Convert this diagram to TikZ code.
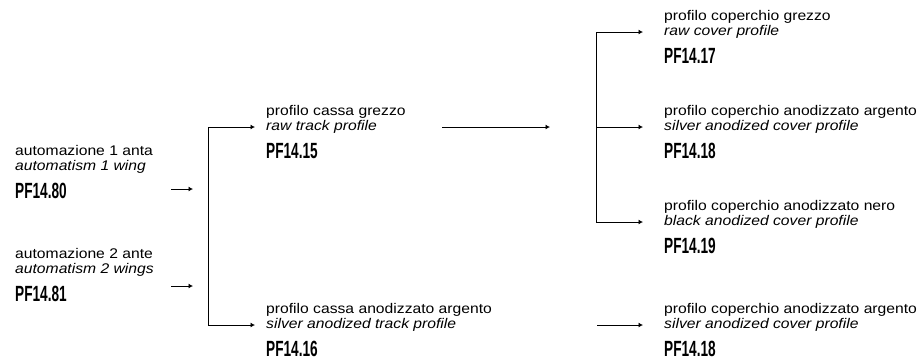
\documentclass[tikz,border=0pt]{standalone}
\usepackage{fontspec}
\usepackage{tikz}
\usetikzlibrary{positioning,arrows.meta}
\newfontfamily\txtfont[FakeStretch=1.12]{Liberation Sans}
\newfontfamily\codfont[FakeStretch=0.62]{Liberation Sans}

\begin{document}
\begin{tikzpicture}[x=1bp,y=1bp,
      desc/.style={font=\txtfont\fontsize{14bp}{15bp}\selectfont,inner sep=0pt,text height=11bp,text depth=4bp},
      eng/.style={desc,font=\txtfont\itshape\fontsize{14bp}{15bp}\selectfont,anchor=west},
      codice/.style={font=\codfont\bfseries\fontsize{22bp}{22bp}\selectfont,inner sep=0pt,text height=16bp,text depth=0pt},
      arrow/.style={-{Latex[length=4.5bp,width=5bp]},line width=0.9bp},
      ramo/.style={line width=0.9bp}]
    \useasboundingbox (0,0) rectangle (921,-361);
    \node[eng] (anta1-en) at (15,-167) {automatism 1 wing};
    \node[desc,above right=0pt and 0pt of anta1-en.north west] (anta1-it) {automazione 1 anta};
    \node[codice,below right=7.5bp and 0pt of anta1-en.south west] (anta1-cod) {PF14.80};
    \node[eng] (anta2-en) at (15,-270) {automatism 2 wings};
    \node[desc,above right=0pt and 0pt of anta2-en.north west] (anta2-it) {automazione 2 ante};
    \node[codice,below right=7.5bp and 0pt of anta2-en.south west] (anta2-cod) {PF14.81};
    \node[eng] (cassa1-en) at (266,-127) {raw track profile};
    \node[desc,above right=0pt and 0pt of cassa1-en.north west] (cassa1-it) {profilo cassa grezzo};
    \node[codice,below right=7.5bp and 0pt of cassa1-en.south west] (cassa1-cod) {PF14.15};
    \node[eng] (cassa2-en) at (266,-325) {silver anodized track profile};
    \node[desc,above right=0pt and 0pt of cassa2-en.north west] (cassa2-it) {profilo cassa anodizzato argento};
    \node[codice,below right=7.5bp and 0pt of cassa2-en.south west] (cassa2-cod) {PF14.16};
    \node[eng] (cop1-en) at (664,-32) {raw cover profile};
    \node[desc,above right=0pt and 0pt of cop1-en.north west] (cop1-it) {profilo coperchio grezzo};
    \node[codice,below right=7.5bp and 0pt of cop1-en.south west] (cop1-cod) {PF14.17};
    \node[eng] (cop2-en) at (664,-127) {silver anodized cover profile};
    \node[desc,above right=0pt and 0pt of cop2-en.north west] (cop2-it) {profilo coperchio anodizzato argento};
    \node[codice,below right=7.5bp and 0pt of cop2-en.south west] (cop2-cod) {PF14.18};
    \node[eng] (cop3-en) at (664,-222) {black anodized cover profile};
    \node[desc,above right=0pt and 0pt of cop3-en.north west] (cop3-it) {profilo coperchio anodizzato nero};
    \node[codice,below right=7.5bp and 0pt of cop3-en.south west] (cop3-cod) {PF14.19};
    \node[eng] (cop4-en) at (664,-325) {silver anodized cover profile};
    \node[desc,above right=0pt and 0pt of cop4-en.north west] (cop4-it) {profilo coperchio anodizzato argento};
    \node[codice,below right=7.5bp and 0pt of cop4-en.south west] (cop4-cod) {PF14.18};
    \coordinate (in1) at (171,-189);
    \coordinate (in1b) at (193,-189);
    \coordinate (in2) at (171,-286);
    \coordinate (in2b) at (193,-286);
    \coordinate (ramoA) at (208,-127);
    \coordinate (ramoB) at (208,-325);
    \coordinate (lungo) at (442,-127);
    \coordinate (lungob) at (550,-127);
    \coordinate (ramoC) at (596,-32);
    \coordinate (ramoD) at (596,-222);
    \coordinate (ramoE) at (596,-127);
    \coordinate (basso) at (597,-325);
    \draw[arrow] (in1)--(in1b);
    \draw[arrow] (in2)--(in2b);
    \draw[ramo] (ramoA)--(ramoB);
    \draw[arrow,shorten >=11bp] (ramoA)--(cassa1-en.west);
    \draw[arrow,shorten >=11bp] (ramoB)--(cassa2-en.west);
    \draw[arrow] (lungo)--(lungob);
    \draw[ramo] (ramoC)--(ramoD);
    \draw[arrow,shorten >=21bp] (ramoC)--(cop1-en.west);
    \draw[arrow,shorten >=21bp] (ramoE)--(cop2-en.west);
    \draw[arrow,shorten >=21bp] (ramoD)--(cop3-en.west);
    \draw[arrow,shorten >=21bp] (basso)--(cop4-en.west);
  \end{tikzpicture}
\end{document}
